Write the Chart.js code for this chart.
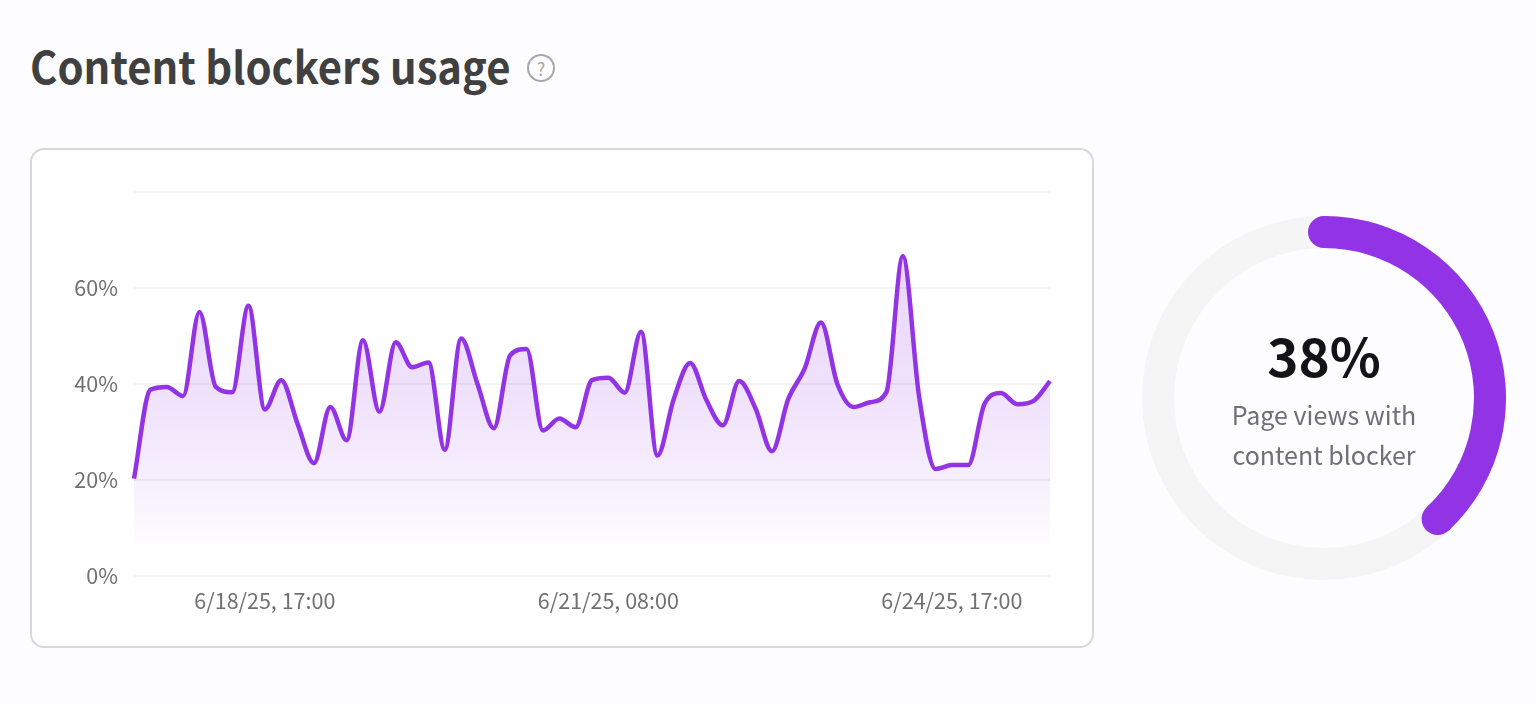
<!DOCTYPE html>
<html>
<head>
<meta charset="utf-8">
<title>Content blockers usage</title>
<script src="https://cdn.jsdelivr.net/npm/chart.js@4"></script>
<style>
  html, body { margin: 0; padding: 0; background: #fdfcff; }
  body { width: 1536px; height: 704px; position: relative; overflow: hidden; font-family: "Noto Sans CJK JP", "Noto Sans", sans-serif; }
  h1 { position: absolute; left: 30px; top: 32px; margin: 0; font-size: 44px; line-height: 66px; font-weight: 700; color: #404040; white-space: nowrap; transform: scaleX(0.95); transform-origin: left center; }
  .help { position: absolute; left: 527px; top: 54px; width: 24px; height: 24px; border: 2px solid #a8a8a8; border-radius: 50%; color: #a8a8a8; font-size: 18px; line-height: 24px; text-align: center; }
  .card { position: absolute; left: 30px; top: 148px; width: 1060px; height: 496px; background: #fff; border: 2px solid #d8d8d8; border-radius: 14px; }
  .card canvas { display: block; }
  .ring { position: absolute; left: 1124px; top: 198px; width: 400px; height: 400px; }
  .big { position: absolute; left: 1124px; width: 400px; top: 318px; text-align: center; font-size: 53px; line-height: 72px; font-weight: 700; color: #141414; }
  .sub { position: absolute; left: 1124px; width: 400px; top: 394px; text-align: center; font-size: 25px; line-height: 40px; color: #707070; }
</style>
</head>
<body>
<h1>Content blockers usage</h1>
<div class="help">?</div>
<div class="card"><canvas id="lineChart" width="1060" height="496"></canvas></div>
<div class="ring"><canvas id="ringChart" width="400" height="400"></canvas></div>
<div class="big">38%</div>
<div class="sub">Page views with<br>content blocker</div>
<script>
// 3 hour buckets, only three of them get a label on the axis
const categories = ['', '', '', '', '', '', '', '', '6/18/25, 17:00', '', '', '', '', '', '', '', '', '', '', '',
  '', '', '', '', '', '', '', '', '', '6/21/25, 08:00', '', '', '', '', '', '', '', '', '', '',
  '', '', '', '', '', '', '', '', '', '', '6/24/25, 17:00', '', '', '', '', '', ''];
const usage = [20.3, 38.8, 39.4, 37.5, 55, 39.4, 38.3, 56.3, 34.7, 40.8, 31.7, 23.5, 35.2, 28.3, 49.1, 34.2, 48.7, 43.5, 44.5,
  26.3, 49.5, 40, 30.8, 46, 47.3, 30.3, 32.8, 31, 40.8, 41.3, 38.2, 50.9, 25.1, 36.9, 44.4, 36.6, 31.4, 40.6, 34.9,
  26, 36.9, 43.2, 52.8, 40, 35.2, 36.2, 38.3, 66.6, 37.3, 22.3, 23.1, 23.1, 35.9, 38.1, 35.8, 36.5, 40.6];
const yTicks = [0, 20, 40, 60];
const share = [38, 62];

const purple = '#9333e6';
const tickFont = { family: '"Noto Sans CJK JP", "Noto Sans", sans-serif', size: 21.5 };

function areaFill(ctx) {
  const area = ctx.chart.chartArea;
  if (!area) return 'transparent';
  const g = ctx.chart.ctx.createLinearGradient(0, area.top, 0, area.bottom - 20);
  g.addColorStop(0, 'rgba(147, 51, 230, 0.22)');
  g.addColorStop(0.3, 'rgba(147, 51, 230, 0.18)');
  g.addColorStop(0.57, 'rgba(147, 51, 230, 0.14)');
  g.addColorStop(0.79, 'rgba(147, 51, 230, 0.08)');
  g.addColorStop(1, 'rgba(147, 51, 230, 0)');
  return g;
}

new Chart(document.getElementById('lineChart'), {
  type: 'line',
  data: {
    labels: categories,
    datasets: [{
      data: usage,
      borderColor: purple,
      borderWidth: 4.5,
      backgroundColor: areaFill,
      fill: 'origin',
      pointRadius: 0,
      cubicInterpolationMode: 'monotone'
    }]
  },
  options: {
    responsive: false,
    animation: false,
    layout: { padding: { top: 42, right: 42 } },
    plugins: { legend: { display: false }, tooltip: { enabled: false } },
    scales: {
      x: {
        grid: { display: false },
        border: { display: false },
        afterFit: s => { s.height = 70; },
        ticks: { autoSkip: false, maxRotation: 0, padding: 4, color: '#707070', font: tickFont }
      },
      y: {
        min: 0,
        max: 80,
        grid: { color: '#f3f3f3', lineWidth: 2, drawTicks: false },
        border: { display: false },
        afterFit: s => { s.width = 102; },
        ticks: {
          stepSize: 20,
          padding: 16,
          color: '#707070',
          font: tickFont,
          callback: v => yTicks.includes(v) ? v + '%' : ''
        }
      }
    }
  }
});

// round ends of the value arc, taken from the arc element itself
const roundCaps = {
  id: 'roundCaps',
  afterDatasetsDraw(chart) {
    const arc = chart.getDatasetMeta(0).data[0];
    const r = (arc.innerRadius + arc.outerRadius) / 2;
    const w = (arc.outerRadius - arc.innerRadius) / 2;
    const c = chart.ctx;
    c.save();
    c.fillStyle = purple;
    [arc.startAngle, arc.endAngle].forEach(a => {
      c.beginPath();
      c.arc(arc.x + Math.cos(a) * r, arc.y + Math.sin(a) * r, w, 0, Math.PI * 2);
      c.fill();
    });
    c.restore();
  }
};

new Chart(document.getElementById('ringChart'), {
  type: 'doughnut',
  data: {
    datasets: [{
      data: share,
      backgroundColor: [purple, '#f5f5f5'],
      borderWidth: 0
    }]
  },
  options: {
    responsive: false,
    animation: false,
    cutout: '82.4%',
    radius: 182,
    plugins: { legend: { display: false }, tooltip: { enabled: false } }
  },
  plugins: [roundCaps]
});
</script>
</body>
</html>
